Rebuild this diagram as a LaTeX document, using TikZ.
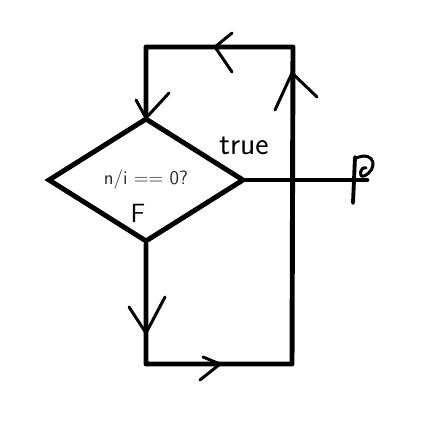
\documentclass[tikz,border=0pt]{standalone}
\usetikzlibrary{shapes.geometric}
\begin{document}
\begin{tikzpicture}
  [x=0.02cm, y=-0.02cm,
   stroke/.style={line width=2.8pt, line cap=round, line join=round},
   chevron/.style={line width=1.7pt, line cap=round, line join=round},
   test/.style={diamond, draw, line width=2.8pt, minimum width=3.92cm, minimum height=2.48cm,
                inner sep=0pt, font=\sffamily\fontsize{11}{13}\selectfont, text=black!85}]

  \useasboundingbox (0,0) rectangle (436,422);

  \node[test] (test) at (146,180) {n/i == 0?};
  \node[font=\sffamily\fontsize{18}{20}\selectfont] (true) at (244,146) {true};
  \node[font=\sffamily\fontsize{15}{17}\selectfont] (false) at (138,213) {F};

  \coordinate (tl) at (test.north |- 0,47);
  \coordinate (tr) at (293,47);
  \coordinate (br) at (292,364);
  \coordinate (bl) at (test.south |- 0,364);
  \coordinate (stop) at (test.east -| 367,0);

  \draw[stroke] (test.north) -- (tl) -- (tr) -- (br) -- (bl) -- (test.south);
  \draw[stroke] (test.east) -- (stop);

  % end mark
  \draw[stroke, line width=2.2pt] (355,157) -- (353,203);
  \draw[chevron] (356,158) .. controls (376,150) and (378,170) .. (364,176)
                 .. controls (358,178) and (360,166) .. (366,168);

  % arrow heads
  \foreach \a/\tip/\b in {{(232,33)}/{(215,47)}/{(232,72)},
                         {(317,97)}/{(292,73)}/{(275,110)},
                         {(136,100)}/{(146,118)}/{(169,93)},
                         {(129,307)}/{(146,333)}/{(165,297)},
                         {(203,357)}/{(220,364)}/{(200,380)}}
    \draw[chevron] \a -- \tip -- \b;
\end{tikzpicture}
\end{document}
